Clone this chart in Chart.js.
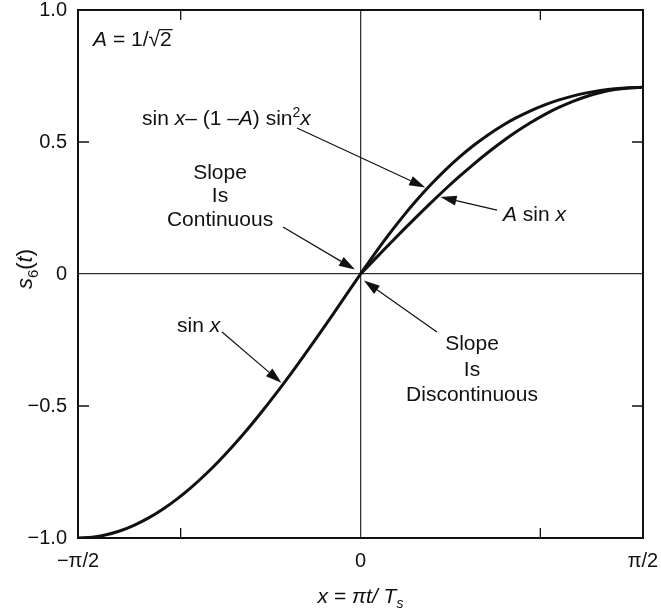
<!DOCTYPE html>
<html>
<head>
<meta charset="utf-8">
<script src="https://cdn.jsdelivr.net/npm/chart.js@4"></script>
<style>
  html, body { margin: 0; padding: 0; background: #fff; }
  #wrap { width: 661px; height: 615px; }
</style>
</head>
<body>
<div id="wrap"><canvas id="chart" width="661" height="615"></canvas></div>
<script>
// x in radians, x = pi*t/Ts
const xLeft = [-1.5708, -1.4923, -1.4137, -1.3352, -1.2566, -1.1781, -1.0996, -1.0210, -0.9425, -0.8639, -0.7854, -0.7069, -0.6283, -0.5498, -0.4712, -0.3927, -0.3142, -0.2356, -0.1571, -0.0785, 0];
const sinLeft = [-1, -0.9969, -0.9877, -0.9724, -0.9511, -0.9239, -0.8910, -0.8526, -0.8090, -0.7604, -0.7071, -0.6494, -0.5878, -0.5225, -0.4540, -0.3827, -0.3090, -0.2334, -0.1564, -0.0785, 0];

const xRight = [0, 0.0785, 0.1571, 0.2356, 0.3142, 0.3927, 0.4712, 0.5498, 0.6283, 0.7069, 0.7854, 0.8639, 0.9425, 1.0210, 1.0996, 1.1781, 1.2566, 1.3352, 1.4137, 1.4923, 1.5708];
// sin x - (1 - A) sin^2 x
const shapedRight = [0, 0.0767, 0.1493, 0.2175, 0.2811, 0.3398, 0.3936, 0.4425, 0.4866, 0.5259, 0.5607, 0.5911, 0.6173, 0.6397, 0.6585, 0.6739, 0.6861, 0.6954, 0.7020, 0.7058, 0.7071];
// A sin x
const scaledRight = [0, 0.0555, 0.1106, 0.1651, 0.2185, 0.2706, 0.3210, 0.3695, 0.4156, 0.4592, 0.5000, 0.5377, 0.5721, 0.6029, 0.6300, 0.6533, 0.6725, 0.6876, 0.6984, 0.7049, 0.7071];

const xTickValues = [-1.5708, -1, 0, 1, 1.5708];
const xTickLabels = ['\u2212\u03c0/2', '', '0', '', '\u03c0/2'];
const yTickValues = [-1, -0.5, 0, 0.5, 1];
const yTickLabels = ['\u22121.0', '\u22120.5', '0', '0.5', '1.0'];

const FONT = '"Liberation Sans", Arial, sans-serif';
const INK = '#111';

function pts(xs, ys) {
  return xs.map((x, i) => ({ x: x, y: ys[i] }));
}

function curve(data) {
  return {
    data: data,
    showLine: true,
    borderColor: INK,
    borderWidth: 3,
    pointRadius: 0,
    cubicInterpolationMode: 'monotone',
    fill: false
  };
}

// text made of runs: plain, italic, superscript, subscript, overline
function drawRuns(ctx, runs, x, y, size, align) {
  const small = Math.round(size * 0.68);
  const fontOf = r => (r.it ? 'italic ' : '') + ((r.sup || r.sub) ? small : size) + 'px ' + FONT;
  let total = 0;
  const widths = runs.map(r => {
    ctx.font = fontOf(r);
    const w = ctx.measureText(r.t).width;
    total += w;
    return w;
  });
  let cx = align === 'center' ? x - total / 2 : x;
  ctx.textAlign = 'left';
  ctx.textBaseline = 'alphabetic';
  runs.forEach((r, i) => {
    ctx.font = fontOf(r);
    let dy = 0;
    if (r.sup) dy = -size * 0.4;
    if (r.sub) dy = size * 0.25;
    ctx.fillText(r.t, cx, y + dy);
    if (r.over) {
      ctx.beginPath();
      ctx.lineWidth = 1.2;
      ctx.moveTo(cx - 1, y - size * 0.8);
      ctx.lineTo(cx + widths[i] + 1, y - size * 0.8);
      ctx.stroke();
    }
    cx += widths[i];
  });
}

function drawArrow(ctx, x0, y0, x1, y1) {
  const ang = Math.atan2(y1 - y0, x1 - x0);
  const len = 16, half = 5;
  const bx = x1 - len * Math.cos(ang), by = y1 - len * Math.sin(ang);
  ctx.beginPath();
  ctx.lineWidth = 1.2;
  ctx.moveTo(x0, y0);
  ctx.lineTo(bx, by);
  ctx.stroke();
  ctx.beginPath();
  ctx.moveTo(x1, y1);
  ctx.lineTo(bx + half * Math.sin(ang), by - half * Math.cos(ang));
  ctx.lineTo(bx - half * Math.sin(ang), by + half * Math.cos(ang));
  ctx.closePath();
  ctx.fill();
}

// labels placed in data coordinates (x in rad, y in s6 units)
const notes = [
  { x: -1.487, y: 0.862, align: 'left', runs: [{ t: 'A', it: true }, { t: ' = 1/\u221a' }, { t: '2', over: true }] },
  { x: -1.215, y: 0.564, align: 'left', runs: [{ t: 'sin ' }, { t: 'x', it: true }, { t: '\u2013 (1 \u2013' }, { t: 'A', it: true }, { t: ') sin' }, { t: '2', sup: true }, { t: 'x', it: true }] },
  { x: -0.781, y: 0.360, align: 'center', runs: [{ t: 'Slope' }] },
  { x: -0.781, y: 0.273, align: 'center', runs: [{ t: 'Is' }] },
  { x: -0.781, y: 0.182, align: 'center', runs: [{ t: 'Continuous' }] },
  { x: 0.792, y: 0.201, align: 'left', runs: [{ t: 'A', it: true }, { t: ' sin ' }, { t: 'x', it: true }] },
  { x: 0.620, y: -0.288, align: 'center', runs: [{ t: 'Slope' }] },
  { x: 0.620, y: -0.386, align: 'center', runs: [{ t: 'Is' }] },
  { x: 0.620, y: -0.481, align: 'center', runs: [{ t: 'Discontinuous' }] },
  { x: -1.020, y: -0.220, align: 'left', runs: [{ t: 'sin ' }, { t: 'x', it: true }] }
];

const arrows = [
  { from: [-0.353, 0.553], to: [0.360, 0.328] },
  { from: [0.759, 0.242], to: [0.445, 0.292] },
  { from: [-0.431, 0.178], to: [-0.031, 0.017] },
  { from: [0.425, -0.220], to: [0.019, -0.025] },
  { from: [-0.770, -0.220], to: [-0.440, -0.412] }
];

const framePlugin = {
  id: 'frame',
  afterDatasetsDraw(chart) {
    const ctx = chart.ctx;
    const a = chart.chartArea;
    const sx = chart.scales.x, sy = chart.scales.y;
    ctx.save();
    ctx.strokeStyle = INK;
    ctx.fillStyle = INK;

    // box
    ctx.lineWidth = 2;
    ctx.strokeRect(a.left, a.top, a.right - a.left, a.bottom - a.top);

    // inward tick marks
    ctx.lineWidth = 1.3;
    ctx.beginPath();
    [-1, 1].forEach(v => {
      const px = sx.getPixelForValue(v);
      ctx.moveTo(px, a.top); ctx.lineTo(px, a.top + 10);
      ctx.moveTo(px, a.bottom); ctx.lineTo(px, a.bottom - 10);
    });
    [-0.5, 0.5].forEach(v => {
      const py = sy.getPixelForValue(v);
      ctx.moveTo(a.left, py); ctx.lineTo(a.left + 11, py);
      ctx.moveTo(a.right, py); ctx.lineTo(a.right - 11, py);
    });
    ctx.stroke();

    // callouts
    notes.forEach(n => {
      drawRuns(ctx, n.runs, sx.getPixelForValue(n.x), sy.getPixelForValue(n.y), 21, n.align);
    });
    arrows.forEach(ar => {
      drawArrow(ctx,
        sx.getPixelForValue(ar.from[0]), sy.getPixelForValue(ar.from[1]),
        sx.getPixelForValue(ar.to[0]), sy.getPixelForValue(ar.to[1]));
    });

    // axis titles
    const midX = sx.getPixelForValue(0);
    drawRuns(ctx, [{ t: 'x', it: true }, { t: ' = ' }, { t: '\u03c0t/ T', it: true }, { t: 's', it: true, sub: true }], midX, 603, 21, 'center');

    ctx.save();
    ctx.translate(32, sy.getPixelForValue(0) - 5);
    ctx.rotate(-Math.PI / 2);
    drawRuns(ctx, [{ t: 's', it: true }, { t: '6', sub: true }, { t: '(' }, { t: 't', it: true }, { t: ')' }], 0, 0, 22, 'center');
    ctx.restore();

    ctx.restore();
  }
};

const zeroLine = c => (c.tick && c.tick.value === 0) ? '#333' : 'rgba(0,0,0,0)';

new Chart(document.getElementById('chart'), {
  type: 'scatter',
  data: {
    datasets: [
      curve(pts(xLeft, sinLeft)),
      curve(pts(xRight, shapedRight)),
      curve(pts(xRight, scaledRight))
    ]
  },
  options: {
    responsive: false,
    animation: false,
    events: [],
    layout: { padding: { top: 10, right: 18, left: 0, bottom: 0 } },
    plugins: { legend: { display: false }, tooltip: { enabled: false } },
    scales: {
      x: {
        type: 'linear',
        min: -1.5708,
        max: 1.5708,
        afterBuildTicks: s => { s.ticks = xTickValues.map(v => ({ value: v })); },
        afterFit: s => {
          s.height = 77;
          s.paddingLeft = 0;
          s.paddingRight = 0;
        },
        border: { display: false },
        grid: { drawTicks: false, color: zeroLine, lineWidth: 1.3 },
        ticks: {
          autoSkip: false,
          maxRotation: 0,
          padding: 13,
          color: INK,
          font: { family: FONT, size: 20, lineHeight: 1 },
          callback: (v, i) => xTickLabels[i]
        }
      },
      y: {
        type: 'linear',
        min: -1,
        max: 1,
        afterBuildTicks: s => { s.ticks = yTickValues.map(v => ({ value: v })); },
        afterFit: s => {
          s.width = 78;
          s.paddingTop = 0;
          s.paddingBottom = 0;
        },
        border: { display: false },
        grid: { drawTicks: false, color: zeroLine, lineWidth: 1.3 },
        ticks: {
          padding: 11,
          color: INK,
          font: { family: FONT, size: 20, lineHeight: 1 },
          callback: (v, i) => yTickLabels[i]
        }
      }
    }
  },
  plugins: [framePlugin]
});
</script>
</body>
</html>
